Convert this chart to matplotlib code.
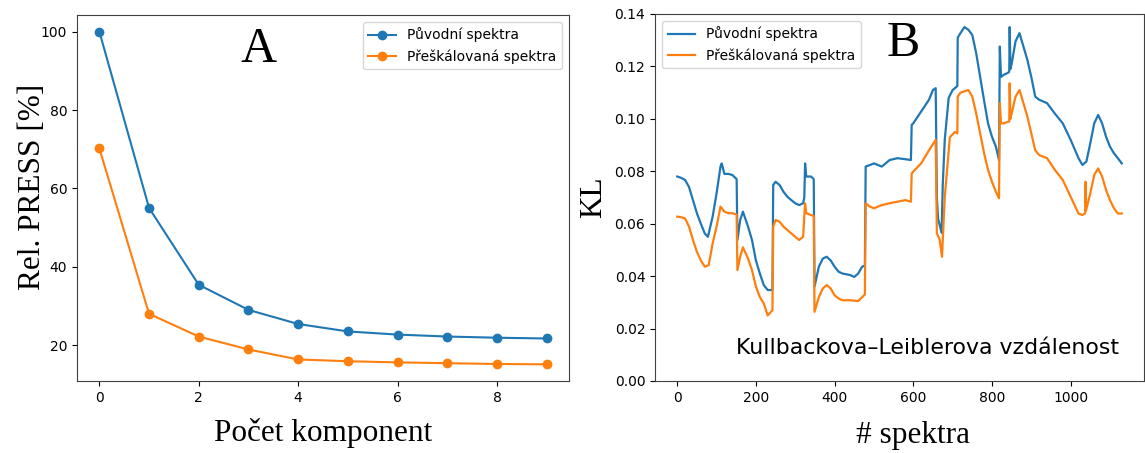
import matplotlib
matplotlib.use("Agg")
import matplotlib.pyplot as plt

# ---------------- Panel A data ----------------
komponenty = [0, 1, 2, 3, 4, 5, 6, 7, 8, 9]
press_puvodni = [100.0, 55.0, 35.4, 29.0, 25.4, 23.5, 22.7, 22.2, 21.9, 21.7]
press_preskal = [70.2, 28.0, 22.2, 18.9, 16.35, 15.9, 15.6, 15.4, 15.2, 15.1]

# ---------------- Panel B data ----------------
kl_x_puvodni = [0, 10, 20, 30, 40, 50, 60, 70, 78, 90, 100, 110, 113, 120, 130, 140,
                151, 153, 160, 167, 180, 190, 200, 210, 220, 230, 242, 244, 250, 260,
                270, 280, 290, 300, 310, 320, 323, 325, 328, 340, 347, 349, 360, 370,
                380, 390, 400, 410, 420, 440, 450, 460, 470, 477, 479, 490, 500, 520,
                540, 560, 580, 594, 596, 600, 620, 640, 650, 657, 660, 663, 672, 675,
                680, 690, 700, 712, 713, 720, 730, 740, 750, 760, 770, 780, 790, 800,
                810, 818, 820, 823, 830, 840, 844, 845, 847, 850, 860, 870, 880, 890,
                900, 910, 920, 940, 960, 980, 1000, 1020, 1030, 1040, 1050, 1060, 1070,
                1080, 1090, 1100, 1110, 1120, 1130]
kl_puvodni = [0.078, 0.0775, 0.0767, 0.074, 0.069, 0.064, 0.060, 0.0563, 0.055, 0.0627,
              0.0716, 0.0818, 0.083, 0.079, 0.079, 0.0786, 0.077, 0.0538, 0.0614, 0.0646,
              0.0589, 0.0538, 0.046, 0.041, 0.0366, 0.0347, 0.0347, 0.0748, 0.076, 0.0748,
              0.0722, 0.0703, 0.069, 0.0678, 0.0671, 0.0678, 0.070, 0.083, 0.078, 0.078,
              0.077, 0.036, 0.0436, 0.0467, 0.0474, 0.046, 0.0436, 0.0417, 0.041, 0.0404,
              0.0397, 0.041, 0.0436, 0.044, 0.0818, 0.0824, 0.083, 0.0818, 0.0843, 0.085,
              0.0846, 0.0843, 0.0977, 0.0983, 0.1028, 0.1073, 0.111, 0.1117, 0.070, 0.062,
              0.0565, 0.075, 0.092, 0.108, 0.111, 0.1125, 0.131, 0.1327, 0.135, 0.134,
              0.132, 0.125, 0.116, 0.107, 0.0983, 0.0932, 0.0894, 0.0843, 0.1276, 0.116,
              0.1168, 0.1175, 0.118, 0.135, 0.119, 0.121, 0.1296, 0.1327, 0.1276, 0.1225,
              0.116, 0.1085, 0.1073, 0.106, 0.102, 0.0983, 0.092, 0.085, 0.0824, 0.0837,
              0.0907, 0.0983, 0.1015, 0.0983, 0.0932, 0.0894, 0.0869, 0.085, 0.083]

kl_x_preskal = [0, 10, 20, 30, 40, 50, 60, 70, 80, 90, 100, 110, 120, 130, 140, 151,
                153, 160, 167, 180, 190, 200, 210, 220, 230, 242, 244, 250, 260, 270,
                280, 290, 300, 310, 320, 325, 328, 340, 347, 349, 360, 370, 380, 390,
                400, 410, 420, 440, 460, 470, 477, 479, 490, 500, 520, 540, 560, 580,
                594, 596, 600, 620, 640, 657, 660, 667, 673, 680, 693, 706, 712, 713,
                720, 740, 750, 760, 770, 780, 790, 800, 810, 818, 820, 823, 830, 844,
                845, 847, 850, 860, 870, 880, 890, 900, 910, 920, 940, 960, 980, 1000,
                1020, 1030, 1037, 1038, 1039, 1050, 1060, 1070, 1080, 1090, 1100, 1110,
                1120, 1130]
kl_preskal = [0.0627, 0.0625, 0.062, 0.0589, 0.0538, 0.0493, 0.046, 0.0436, 0.0442,
              0.0525, 0.0589, 0.0665, 0.0646, 0.064, 0.064, 0.0635, 0.0423, 0.0474, 0.051,
              0.0467, 0.0423, 0.036, 0.032, 0.0296, 0.025, 0.027, 0.0589, 0.0614, 0.0608,
              0.0589, 0.0576, 0.0563, 0.055, 0.0538, 0.055, 0.0678, 0.064, 0.0633, 0.063,
              0.0264, 0.032, 0.0353, 0.0366, 0.0353, 0.0327, 0.0315, 0.0308, 0.0308,
              0.0305, 0.032, 0.033, 0.0678, 0.0665, 0.0659, 0.0671, 0.0678, 0.0684, 0.069,
              0.0684, 0.0792, 0.0799, 0.083, 0.088, 0.092, 0.0563, 0.054, 0.0474, 0.070,
              0.093, 0.095, 0.0945, 0.1085, 0.110, 0.111, 0.1085, 0.102, 0.0945, 0.0869,
              0.0805, 0.076, 0.0722, 0.0697, 0.106, 0.0983, 0.0983, 0.099, 0.1136, 0.100,
              0.102, 0.1085, 0.111, 0.106, 0.1009, 0.0945, 0.088, 0.0862, 0.085, 0.0805,
              0.0767, 0.0703, 0.0639, 0.0633, 0.064, 0.076, 0.065, 0.0716, 0.0786, 0.0811,
              0.078, 0.0729, 0.069, 0.0659, 0.0639, 0.0639]

legend_labels = ["Původní spektra", "Přeškálovaná spektra"]

SERIF = "Liberation Serif"
LABEL_SIZE = 22.5

fig = plt.figure(figsize=(11.45, 4.53), dpi=100)

W, H = 1145.0, 453.0
axA = fig.add_axes([77 / W, (H - 381) / H, (569 - 77) / W, (381 - 15) / H])
axB = fig.add_axes([655 / W, (H - 381) / H, (1144 - 655) / W, (381 - 14) / H])

for ax in (axA, axB):
    for s in ax.spines.values():
        s.set_color("0.25")

# Panel A
axA.plot(komponenty, press_puvodni, "-o", color="#1f77b4", label=legend_labels[0])
axA.plot(komponenty, press_preskal, "-o", color="#ff7f0e", label=legend_labels[1])
axA.set_xlabel("Počet komponent", fontfamily=SERIF, fontsize=LABEL_SIZE)
axA.set_ylabel("Rel. PRESS [%]", fontfamily=SERIF, fontsize=LABEL_SIZE)
axA.xaxis.set_label_coords(0.5, -0.1)
axA.yaxis.set_label_coords(-0.06, 0.53)
axA.legend(loc="upper right")
axA.text(0.37, 0.905, "A", transform=axA.transAxes, fontfamily=SERIF,
         fontsize=36, ha="center", va="center")

# Panel B
axB.plot(kl_x_puvodni, kl_puvodni, "-", color="#1f77b4", lw=1.6, label=legend_labels[0])
axB.plot(kl_x_preskal, kl_preskal, "-", color="#ff7f0e", lw=1.6, label=legend_labels[1])
axB.set_ylim(0, 0.14)
axB.set_xlabel("# spektra", fontfamily=SERIF, fontsize=LABEL_SIZE)
axB.set_ylabel("KL", fontfamily=SERIF, fontsize=LABEL_SIZE)
axB.xaxis.set_label_coords(0.527, -0.11)
axB.yaxis.set_label_coords(-0.095, 0.5)
axB.legend(loc="upper left")
axB.text(0.507, 0.92, "B", transform=axB.transAxes, fontfamily=SERIF,
         fontsize=36, ha="center", va="center")
axB.text(0.166, 0.09, "Kullbackova–Leiblerova vzdálenost", transform=axB.transAxes,
         fontsize=15.8, ha="left", va="center")

fig.savefig("out.png", dpi=100)
